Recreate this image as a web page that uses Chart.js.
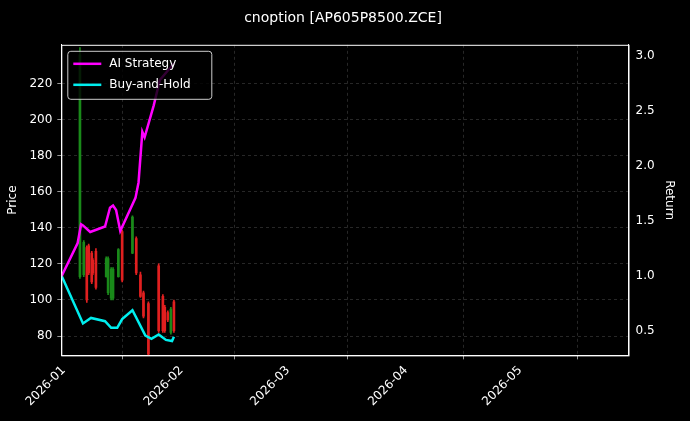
<!DOCTYPE html>
<html><head><meta charset="utf-8">
<script src="https://cdn.jsdelivr.net/npm/chart.js@4.4.0/dist/chart.umd.min.js"></script>
<style>html,body{margin:0;background:#000;}canvas{display:block}</style>
</head><body><canvas id="c" width="690" height="421"></canvas>
<script>
// x values: days since 2026-01-01
const candleDays = [4.3,5.3,6.1,6.6,7.4,7.7,8.5,11.2,11.7,12.5,13.0,14.4,15.4,18.1,19.1,20.2,21.0,22.3,25.0,26.1,26.6,27.4,28.2,29.0];
const candleOpen = [113,114,129,130,126,122,127,113,104,101,101,113,138,126,134,114,104,98,119,102,96,93,82,99];
const candleClose= [236,132,100,115,110,115,107,123,123,117,117,128,111,146,115,102,91,70,83,83,83,89,95,83];
const candleHigh = [240,133,130,131,127,123,128.5,124,124,118,118,128.5,138.7,146.6,135,115.5,105,99,120,103,97,94,96,100];
const candleLow  = [112,113,98.6,114,109,114,106,112.7,103,100,100,112.7,110,125.7,114,101.4,90,68,82,82,82,88,81,82];
const aiDays = [-0.5,3.7,4.6,5.1,7.0,10.9,12.2,13.0,13.8,14.9,18.9,19.7,20.7,21.3,23.7,25.3,29.0];
const aiReturn = [1.0,1.30,1.47,1.46,1.40,1.45,1.62,1.64,1.60,1.41,1.71,1.85,2.31,2.26,2.55,2.78,2.93];
const bhDays = [-0.5,5.1,7.2,10.9,12.5,14.1,15.4,18.1,21.5,23.1,25.0,26.9,28.5,29.0];
const bhReturn = [1.0,0.57,0.62,0.59,0.53,0.53,0.61,0.69,0.46,0.43,0.47,0.42,0.41,0.45];
const monthTicks = [0,31,59,90,120];
const monthLabels = ['2026-01','2026-02','2026-03','2026-04','2026-05'];
const priceTicks = [80,100,120,140,160,180,200,220];
const returnTicks = [0.5,1.0,1.5,2.0,2.5,3.0];

const up = '#1a8a1a', down = '#e02020';
function cd(filterUp, kind){
  const out=[];
  candleDays.forEach((d,i)=>{
    const isUp = candleClose[i]>=candleOpen[i];
    if(isUp!==filterUp) return;
    out.push({x:d, y: kind==='wick'?[candleLow[i],candleHigh[i]]:[candleOpen[i],candleClose[i]]});
  });
  return out;
}
const grid = {color:'rgba(130,130,130,0.5)', lineWidth:0.6, drawTicks:true, tickColor:'#fff', tickLength:4};
const border = {color:'#fff', dash:[3,3]};
const legendPlugin = {
  id:'lg',
  afterDraw(ch){
    const c=ch.ctx, a=ch.chartArea;
    const x=a.left+6, y=a.top+6, w=144, h=48;
    c.save();
    c.fillStyle='rgba(0,0,0,0.8)'; c.strokeStyle='#ccc'; c.lineWidth=1;
    c.beginPath(); c.roundRect(x+0.5,y+0.5,w,h,3); c.fill(); c.stroke();
    c.font='12px "DejaVu Sans"'; c.textBaseline='middle'; c.fillStyle='#fff';
    [['AI Strategy','#ff00ff'],['Buy-and-Hold','#00eeee']].forEach((it,k)=>{
      const yy=y+13+k*21;
      c.strokeStyle=it[1]; c.lineWidth=2.5; c.beginPath(); c.moveTo(x+6,yy); c.lineTo(x+34,yy); c.stroke();
      c.fillText(it[0],x+42,yy);
    });
    c.restore();
  }
};
new Chart(document.getElementById('c'),{
  type:'bar',
  data:{datasets:[
    {type:'line',label:'AI Strategy',data:aiDays.map((d,i)=>({x:d,y:aiReturn[i]})),borderColor:'#ff00ff',borderWidth:2.5,pointRadius:0,yAxisID:'y1',tension:0},
    {type:'line',label:'Buy-and-Hold',data:bhDays.map((d,i)=>({x:d,y:bhReturn[i]})),borderColor:'#00eeee',borderWidth:2.5,pointRadius:0,yAxisID:'y1',tension:0},
    {label:'uw',data:cd(true,'wick'),backgroundColor:up,barThickness:1,grouped:false,yAxisID:'y'},
    {label:'ub',data:cd(true,'body'),backgroundColor:up,barThickness:2,grouped:false,yAxisID:'y'},
    {label:'dw',data:cd(false,'wick'),backgroundColor:down,barThickness:1,grouped:false,yAxisID:'y'},
    {label:'db',data:cd(false,'body'),backgroundColor:down,barThickness:2,grouped:false,yAxisID:'y'}
  ]},
  options:{
    responsive:false, devicePixelRatio:1, animation:false,
    layout:{padding:{left:6,right:10,top:0,bottom:8}},
    plugins:{legend:{display:false},tooltip:{enabled:false},
      title:{display:true,text:'cnoption [AP605P8500.ZCE]',color:'#fff',font:{family:'DejaVu Sans',size:14,weight:'normal'},padding:{top:10,bottom:18}}},
    scales:{
      x:{type:'linear',min:-0.6,max:148.5,offset:false,
        afterBuildTicks(s){s.ticks=monthTicks.map(v=>({value:v}));},
        ticks:{color:'#fff',font:{family:'DejaVu Sans',size:12},maxRotation:45,minRotation:45,autoSkip:false,padding:4,
          callback:(v)=>monthLabels[monthTicks.indexOf(v)]},
        grid:grid, border:border},
      y:{position:'left',min:69.3,max:241.5,
        afterBuildTicks(s){s.ticks=priceTicks.map(v=>({value:v}));},
        ticks:{color:'#fff',font:{family:'DejaVu Sans',size:12},padding:5},
        title:{display:true,text:'Price',color:'#fff',font:{family:'DejaVu Sans',size:12},padding:{top:0,bottom:4}},
        grid:grid, border:border},
      y1:{position:'right',min:0.28,max:3.10,
        afterBuildTicks(s){s.ticks=returnTicks.map(v=>({value:v}));},
        ticks:{color:'#fff',font:{family:'DejaVu Sans',size:12},callback:v=>v.toFixed(1)},
        title:{display:true,text:'Return',color:'#fff',font:{family:'DejaVu Sans',size:12}},
        grid:{display:false,drawTicks:true,tickColor:'#fff',tickLength:4}, border:{color:'#fff'}}
    }
  },
  plugins:[legendPlugin,{id:'bg',beforeDraw(ch){const c=ch.ctx;c.save();c.fillStyle='#000';c.fillRect(0,0,ch.width,ch.height);c.restore();}},
    {id:'frame',afterDraw(ch){const a=ch.chartArea,c=ch.ctx;c.save();c.strokeStyle='#fff';c.lineWidth=1;c.strokeRect(a.left+0.5,a.top+0.5,a.width,a.height);c.restore();}}]
});
</script></body></html>
